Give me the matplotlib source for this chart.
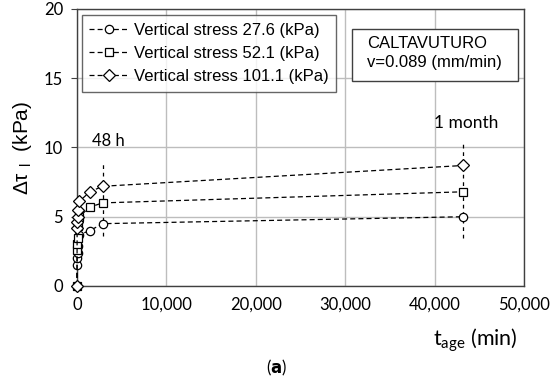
import numpy as np
import matplotlib.pyplot as plt
from matplotlib.ticker import FuncFormatter
from matplotlib.patches import Rectangle

# ageing time (min) and shear stress increase (kPa)
t_age = [0, 15, 30, 60, 120, 240, 1440, 2880, 43200]
tau_27 = [0, 1.5, 2.0, 2.4, 2.9, 3.7, 4.0, 4.5, 5.0]
tau_52 = [0, 2.6, 3.0, 3.5, 4.3, 5.0, 5.7, 6.0, 6.8]
tau_101 = [0, 4.2, 4.6, 5.0, 5.5, 6.1, 6.8, 7.2, 8.7]
labels = ['Vertical stress 27.6 (kPa)', 'Vertical stress 52.1 (kPa)', 'Vertical stress 101.1 (kPa)']
markers = ['o', 's', 'D']
msizes = [6.0, 5.8, 6.5]

# vertical marker lines: (time, y from, y to)
marks = [(2880, 3.6, 9.0), (43200, 3.5, 10.3)]

plt.rcParams['font.family'] = ['Lato', 'DejaVu Sans']

fig = plt.figure(figsize=(5.5, 3.8), dpi=100)
ax = fig.add_axes([0.140, 0.2474, 0.8127, 0.729])

for tx, y0, y1 in marks:
    ax.plot([tx, tx], [y0, y1], ls=(0, (3, 3)), color='k', lw=0.9, zorder=2)

for y, m, ms, lab in zip([tau_27, tau_52, tau_101], markers, msizes, labels):
    ax.plot(t_age, y, ls=(0, (4, 2.5)), color='k', lw=0.9, marker=m, ms=ms,
            mfc='white', mec='k', mew=0.9, label=lab, clip_on=False, zorder=3)

ax.text(1700, 10.5, '48 h', fontsize=12, va='center', ha='left')
ax.text(39900, 11.8, '1 month', fontsize=12.5, va='center', ha='left')

ax.set_xlim(0, 50000)
ax.set_ylim(0, 20)
ax.set_xticks(np.arange(0, 50001, 10000))
ax.set_yticks(np.arange(0, 21, 5))
ax.xaxis.set_major_formatter(FuncFormatter(lambda v, p: f'{int(v):,}'))
ax.grid(True, color='#bdbdbd', lw=1)
ax.set_axisbelow(True)
for sp in ax.spines.values():
    sp.set_color('#404040')
    sp.set_linewidth(1)
ax.tick_params(axis='x', length=0, pad=8, labelsize=12)
ax.tick_params(axis='y', length=4, direction='out', pad=6, labelsize=12, color='#404040')

leg = ax.legend(loc='upper left', bbox_to_anchor=(0.011, 0.978), frameon=True, fancybox=False,
                edgecolor='#404040', prop={'family': 'Liberation Sans', 'size': 12},
                handlelength=2.4, handletextpad=0.25, borderpad=0.45, labelspacing=0.5,
                borderaxespad=0)
leg.get_frame().set_linewidth(1)

ax.add_patch(Rectangle((0.615, 0.740), 0.372, 0.188, transform=ax.transAxes,
                       fc='white', ec='#404040', lw=1, zorder=5))
ax.text(0.649, 0.874, 'CALTAVUTURO', transform=ax.transAxes, fontsize=12,
        family='Liberation Sans', va='center', ha='left', zorder=6)
ax.text(0.649, 0.805, 'v=0.089 (mm/min)', transform=ax.transAxes, fontsize=12,
        family='Liberation Sans', va='center', ha='left', zorder=6)

fig.text(22 / 550, 1 - 148 / 380, r'Δτ $_{\mathregular{l}}$  (kPa)', rotation=90,
         fontsize=15, family='Liberation Sans', ha='center', va='center')
fig.text(475 / 550, 1 - 340 / 380, r't$_{\mathregular{age}}$ (min)', fontsize=15.5,
         ha='center', va='center')
fig.text(277 / 550, 1 - 368 / 380, r'($\mathbf{a}$)', fontsize=12, ha='center', va='center')

fig.savefig('out.png', dpi=100)
